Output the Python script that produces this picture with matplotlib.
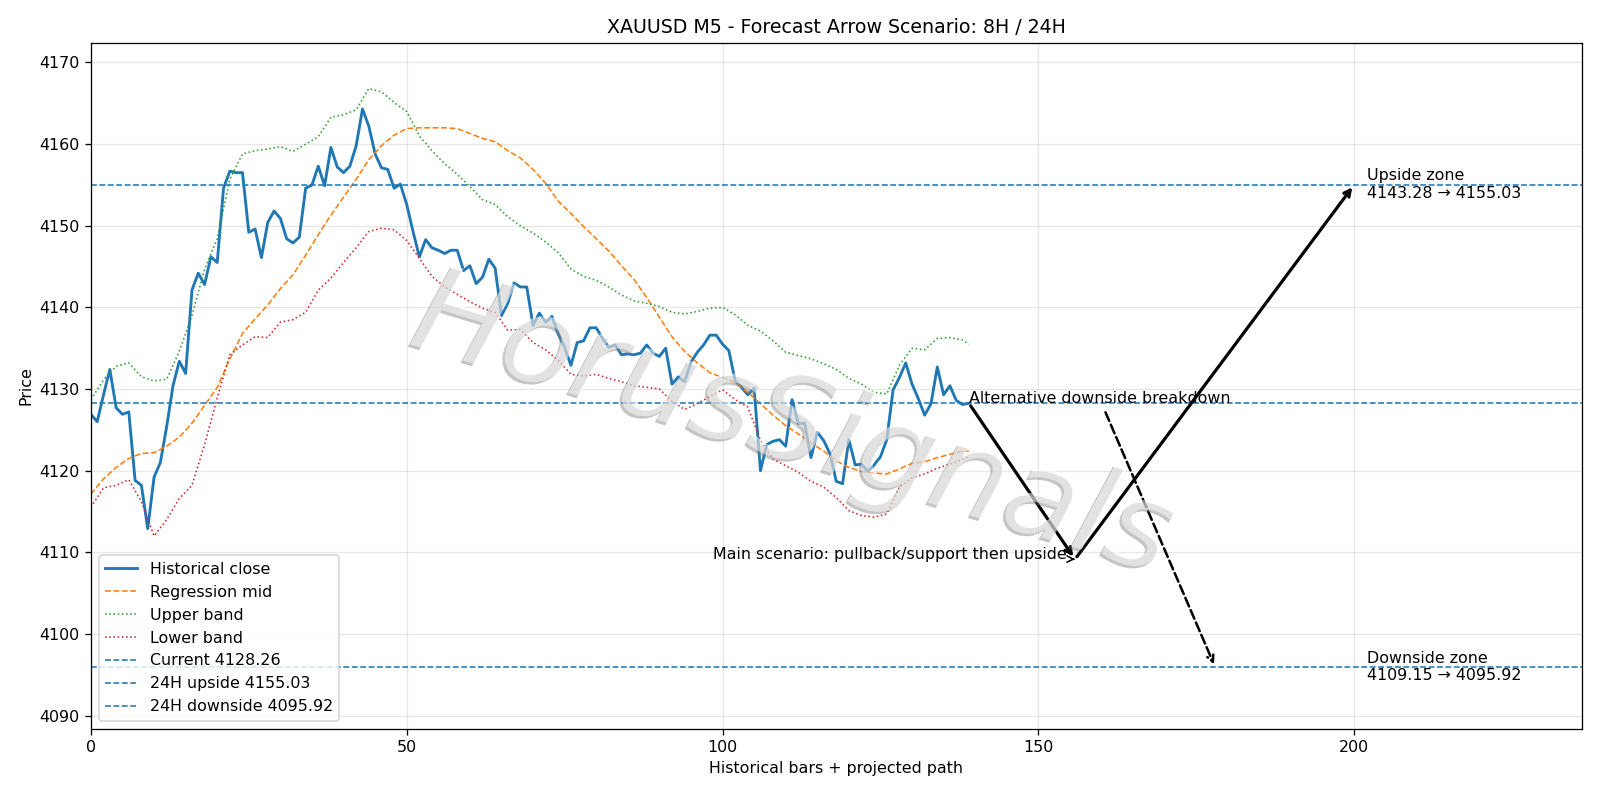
import numpy as np
import matplotlib
matplotlib.use("Agg")
import matplotlib.pyplot as plt
import matplotlib.patheffects as pe

# historical close (one value per bar, x = 0..139)
close = [
    4126.9, 4126.0, 4129.3, 4132.4, 4127.7, 4126.9, 4127.2, 4118.8, 4118.2, 4112.9,
    4119.2, 4121.0, 4125.4, 4130.4, 4133.4, 4131.9, 4142.1, 4144.2, 4142.8, 4146.2,
    4145.5, 4154.6, 4156.7, 4156.5, 4156.5, 4149.2, 4149.6, 4146.1, 4150.4, 4151.8,
    4150.9, 4148.4, 4147.9, 4148.6, 4154.6, 4155.0, 4157.3, 4154.9, 4159.6, 4157.2,
    4156.5, 4157.3, 4159.8, 4164.3, 4162.2, 4158.8, 4157.1, 4156.9, 4154.6, 4155.1,
    4152.6, 4149.3, 4146.2, 4148.3, 4147.3, 4147.0, 4146.6, 4147.0, 4147.0, 4144.5,
    4145.1, 4142.9, 4143.7, 4145.9, 4144.8, 4139.0, 4140.5, 4143.0, 4142.5, 4142.5,
    4137.8, 4139.3, 4138.2, 4138.9, 4136.7, 4135.1, 4132.9, 4135.7, 4135.9, 4137.5,
    4137.5, 4136.2, 4135.1, 4135.4, 4134.2, 4134.3, 4134.2, 4134.4, 4135.4, 4134.4,
    4134.0, 4135.0, 4130.6, 4131.5, 4130.9, 4133.3, 4134.5, 4135.4, 4136.6, 4136.6,
    4135.5, 4134.7, 4131.0, 4130.2, 4129.3, 4130.1, 4120.0, 4123.2, 4123.6, 4123.8,
    4123.0, 4128.7, 4125.8, 4125.8, 4121.6, 4124.7, 4123.7, 4122.1, 4118.7, 4118.4,
    4123.8, 4120.7, 4120.8, 4119.9, 4120.7, 4121.7, 4123.8, 4129.9, 4131.4, 4133.2,
    4130.6, 4128.8, 4126.8, 4128.2, 4132.7, 4129.3, 4130.4, 4128.6, 4128.1, 4128.26,
]

# regression channel, read every 2 bars
band_x = list(range(0, 140, 2)) + [139]
mid = [
    4117.1, 4119.0, 4120.4, 4121.5, 4122.1, 4122.2, 4123.0, 4124.1, 4125.8, 4128.0,
    4130.2, 4133.7, 4136.8, 4138.6, 4140.3, 4142.3, 4144.0, 4146.4, 4148.9, 4151.3,
    4153.5, 4155.7, 4158.1, 4159.8, 4161.1, 4161.9, 4162.0, 4162.0, 4162.0, 4161.9,
    4161.3, 4160.7, 4160.3, 4159.2, 4158.3, 4156.9, 4155.2, 4153.0, 4151.5, 4149.9,
    4148.4, 4146.9, 4145.1, 4143.4, 4141.2, 4138.8, 4136.4, 4134.6, 4133.2, 4132.0,
    4131.4, 4130.8, 4129.6, 4128.2, 4126.8, 4125.5, 4124.5, 4123.4, 4122.4, 4121.2,
    4120.4, 4119.9, 4119.7, 4119.6, 4120.2, 4120.9, 4121.1, 4121.6, 4122.0, 4122.4,
    4122.4,
]
upper = [
    4128.7, 4131.1, 4132.8, 4133.2, 4131.5, 4131.0, 4131.2, 4134.6, 4139.0, 4144.7,
    4148.4, 4155.7, 4158.8, 4159.2, 4159.4, 4159.7, 4159.1, 4160.0, 4160.9, 4163.3,
    4163.6, 4164.2, 4166.8, 4166.4, 4165.1, 4164.0, 4161.0, 4159.2, 4157.6, 4156.3,
    4154.8, 4153.2, 4152.6, 4151.1, 4150.0, 4149.1, 4148.0, 4146.7, 4144.7, 4143.8,
    4143.3, 4142.5, 4141.5, 4140.8, 4140.5, 4140.1, 4139.4, 4139.2, 4139.5, 4139.9,
    4140.0, 4139.1, 4137.8, 4137.1, 4135.9, 4134.5, 4134.1, 4133.7, 4133.1, 4132.4,
    4131.3, 4130.6, 4129.6, 4129.4, 4132.9, 4135.0, 4134.8, 4136.2, 4136.3, 4136.0,
    4135.5,
]
lower = [
    4115.5, 4117.9, 4118.2, 4118.9, 4116.2, 4112.0, 4114.0, 4116.6, 4118.2, 4123.2,
    4128.9, 4134.2, 4135.4, 4136.4, 4136.3, 4138.2, 4138.5, 4139.4, 4142.1, 4143.6,
    4145.5, 4147.3, 4149.3, 4149.7, 4149.5, 4148.2, 4146.0, 4143.8, 4142.5, 4141.6,
    4140.7, 4139.9, 4139.4, 4137.2, 4137.3, 4135.7, 4134.8, 4133.5, 4131.8, 4131.6,
    4131.8, 4131.3, 4130.9, 4130.4, 4130.2, 4130.0, 4128.5, 4127.5, 4128.2, 4129.1,
    4129.9, 4128.7, 4127.8, 4123.7, 4121.4, 4120.6, 4119.8, 4118.7, 4118.0, 4116.7,
    4115.1, 4114.5, 4114.3, 4114.7, 4118.0, 4119.1, 4119.6, 4120.3, 4120.8, 4121.4,
    4121.7,
]

current = 4128.26
up_8h, up_24h = 4143.28, 4155.03
dn_8h, dn_24h = 4109.15, 4095.92
pull_x = 155.8
up_x = 200
alt_x = 178

hist_x = np.arange(len(close))
last_x = hist_x[-1]

fig, ax = plt.subplots(figsize=(14, 7), dpi=1600 / 14)
fig.subplots_adjust(left=0.0568, right=0.9885, top=0.9464, bottom=0.0892)

ax.plot(hist_x, close, color="C0", lw=1.8, label="Historical close")
ax.plot(band_x, mid, "--", color="C1", lw=1, label="Regression mid")
ax.plot(band_x, upper, ":", color="C2", lw=1, label="Upper band")
ax.plot(band_x, lower, ":", color="C3", lw=1, label="Lower band")
ax.axhline(current, ls="--", color="C0", lw=1, label=f"Current {current:.2f}")
ax.axhline(up_24h, ls="--", color="C0", lw=1, label=f"24H upside {up_24h:.2f}")
ax.axhline(dn_24h, ls="--", color="C0", lw=1, label=f"24H downside {dn_24h:.2f}")

# main scenario: pullback then upside
ax.annotate("", xy=(pull_x, dn_8h), xytext=(last_x, current),
            arrowprops=dict(arrowstyle="->", lw=2, color="black"))
ax.annotate("", xy=(up_x, up_24h), xytext=(pull_x, dn_8h),
            arrowprops=dict(arrowstyle="->", lw=2, color="black"))
ax.annotate("Main scenario: pullback/support then upside", xy=(pull_x, dn_8h),
            xytext=(-5, 0), textcoords="offset points", ha="right",
            arrowprops=dict(arrowstyle="->", lw=1, color="black"))

# alternative
ax.annotate("Alternative downside breakdown", xy=(alt_x, dn_24h), xytext=(last_x, current),
            arrowprops=dict(arrowstyle="->", lw=1.6, ls="--", color="black"))

ax.text(up_x + 2, up_24h, f"Upside zone\n{up_8h:.2f} \u2192 {up_24h:.2f}", va="center")
ax.text(up_x + 2, dn_24h, f"Downside zone\n{dn_8h:.2f} \u2192 {dn_24h:.2f}", va="center")

ax.set_xlim(0, 236)
ax.set_ylim(4088.4, 4172.4)
ax.set_title("XAUUSD M5 - Forecast Arrow Scenario: 8H / 24H")
ax.set_xlabel("Historical bars + projected path")
ax.set_ylabel("Price")
ax.grid(True, alpha=0.3)
ax.legend(loc="lower left")

# watermark
ax.text(0.471, 0.44, "HorusSignals", transform=ax.transAxes, fontsize=76,
        style="italic", rotation=-17, ha="center", va="center", color="white",
        alpha=0.5, zorder=10,
        path_effects=[pe.SimplePatchShadow(offset=(-1.5, -1.5), shadow_rgbFace="#808080", alpha=0.45),
                      pe.Normal()])

fig.savefig("out.png", dpi=1600 / 14)
